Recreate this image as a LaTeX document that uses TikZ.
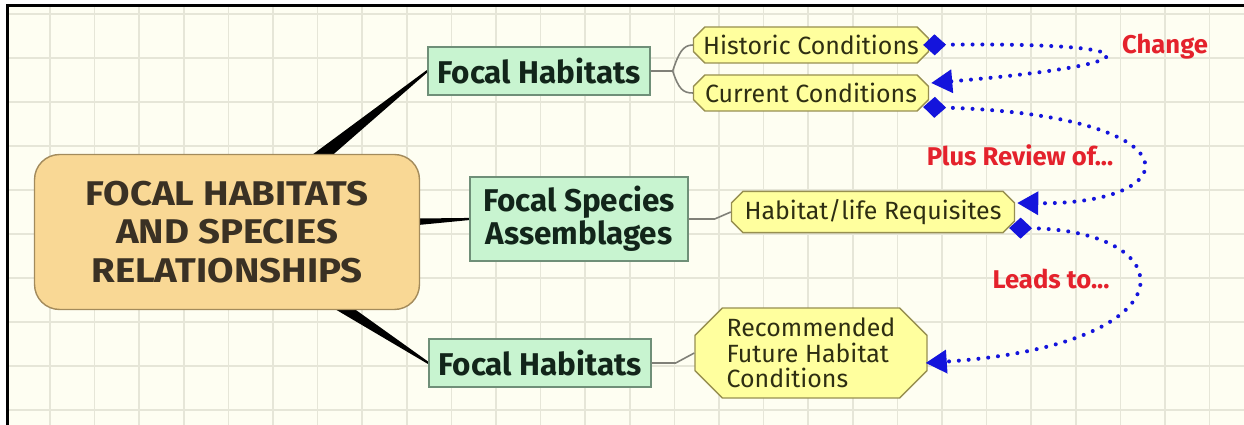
\documentclass[tikz,border=0pt]{standalone}
\usepackage{fontspec}
\setmainfont{Fira Sans}
\newfontfamily\widefont[FakeStretch=1.12]{Fira Sans}
\usepackage{tikz}
\usetikzlibrary{shapes.misc,calc,arrows.meta}

\pgfdeclarelayer{paper}
\pgfdeclarelayer{stems}
\pgfsetlayers{paper,stems,main}

\definecolor{paperbg}{HTML}{FEFEF2}
\definecolor{gridgray}{HTML}{E6E6D8}
\definecolor{mainfill}{HTML}{F9D895}
\definecolor{mainedge}{HTML}{A38B5C}
\definecolor{maintext}{HTML}{3A3124}
\definecolor{focalfill}{HTML}{C8F4D0}
\definecolor{focaledge}{HTML}{6F8F78}
\definecolor{focaltext}{HTML}{12251A}
\definecolor{condfill}{HTML}{FFFF9E}
\definecolor{condedge}{HTML}{978F50}
\definecolor{condtext}{HTML}{2E2E12}
\definecolor{linkblue}{HTML}{1414DC}
\definecolor{notered}{HTML}{E4222C}
\definecolor{twiggray}{HTML}{808078}

\begin{document}
\begin{tikzpicture}[x=0.02cm, y=-0.02cm,
    mainbox/.style={draw=mainedge, fill=mainfill, line width=0.8pt, rounded corners=0.5cm,
        minimum width=7.7cm, minimum height=3.1cm, align=center, text=maintext,
        font=\widefont\fontsize{19.5}{21.8}\selectfont\bfseries},
    focalbox/.style={draw=focaledge, fill=focalfill, line width=0.8pt,
        minimum width=4.44cm, minimum height=0.96cm, align=center, text=focaltext,
        font=\fontsize{17.9}{18.7}\selectfont\bfseries},
    condbox/.style={chamfered rectangle, chamfered rectangle xsep=3pt, draw=condedge,
        fill=condfill, line width=0.8pt, inner sep=1pt, minimum width=4.7cm,
        minimum height=0.72cm, text=condtext, font=\fontsize{14.2}{14.5}\selectfont},
    futurebox/.style={condbox, chamfered rectangle xsep=12pt, align=left,
        minimum width=4.64cm, minimum height=1.8cm},
    notelabel/.style={text=notered, font=\fontsize{14.6}{16}\selectfont\bfseries},
    linkline/.style={linkblue, line width=2.3pt, line cap=round,
        dash pattern=on 0pt off 5.6pt,
        {Diamond[length=13pt,width=12pt]}-{Triangle[length=12pt,width=13pt]}},
    twig/.style={twiggray, line width=0.9pt},
    branch/.style={fill=black},
    gridline/.style={gridgray, line width=0.9pt}]

    \useasboundingbox (0,0) rectangle (1244,425);

    % paper, grid and frame
    \begin{pgfonlayer}{paper}
        \fill[white] (0,0) rectangle (1244,425);
        \fill[paperbg] (7,5) rectangle (1244,425);
        \foreach \gx in {0,...,26}
            \draw[gridline] ({50+44.6*\gx},7) -- ({50+44.6*\gx},425);
        \foreach \gy in {0,...,9}
            \draw[gridline] (8,{14+44*\gy}) -- (1244,{14+44*\gy});
        \fill[black] (6,4) rectangle (1244,7.5);
        \fill[black] (6,4) rectangle (8.5,425);
    \end{pgfonlayer}

    % central topic
    \node[mainbox] (main) at (227,232) {FOCAL HABITATS\\AND SPECIES\\RELATIONSHIPS};

    % main branches
    \node[focalbox] (habtop) at (539,71) {Focal Habitats};
    \node[focalbox, minimum width=4.36cm, minimum height=1.68cm] (species) at (579,219) {Focal Species\\Assemblages};
    \node[focalbox] (habbot) at (540,363) {Focal Habitats};

    % sub topics
    \node[condbox] (historic) at (811,45) {Historic Conditions};
    \node[condbox] (current) at (811,93) {Current Conditions};
    \node[condbox, minimum width=5.66cm, minimum height=0.78cm] (requisites) at (873,212) {Habitat/life Requisites};
    \node[futurebox] (future) at (811,353) {Recommended\\Future Habitat\\Conditions};

    % relationship labels
    \node[notelabel] (change) at (1165,47) {Change};
    \node[notelabel] (review) at (1020,155) {Plus Review of...};
    \node[notelabel] (leads) at (1051,279) {Leads to...};

    % tapered stems from the central topic
    \begin{pgfonlayer}{stems}
        \foreach \tgt in {habtop,species,habbot}
            \fill[branch] ($(main.center)!6.5pt!90:(\tgt.west)$) -- ($(\tgt.west)!0.6pt!-90:(main.center)$)
                -- ($(\tgt.west)!0.6pt!90:(main.center)$) -- ($(main.center)!6.5pt!-90:(\tgt.west)$) -- cycle;
    \end{pgfonlayer}

    % thin links to sub topics
    \draw[twig] (habtop.east) -- ++(22,0) coordinate (fork);
    \draw[twig] (fork) .. controls +(6,-18) and +(-10,0) .. (historic.west);
    \draw[twig] (fork) .. controls +(6,18) and +(-10,0) .. (current.west);
    \draw[twig] (species.east) -- ++(26,0) -- (requisites.west);
    \draw[twig] (habbot.east) -- ++(24,0) -- (future.west);

    % dotted relationships
    \draw[linkline] ($(historic.east)+(-6,0)$) .. controls (1160,42) and (1160,64) .. ($(current.east)+(2,-10)$);
    \draw[linkline] ($(current.east)+(-6,14)$) .. controls (1200,115) and (1190,205) .. ($(requisites.east)+(2,-9)$);
    \draw[linkline] ($(requisites.east)+(-6,16)$) .. controls (1185,230) and (1195,345) .. ($(future.east)+(-2,10)$);
\end{tikzpicture}
\end{document}
